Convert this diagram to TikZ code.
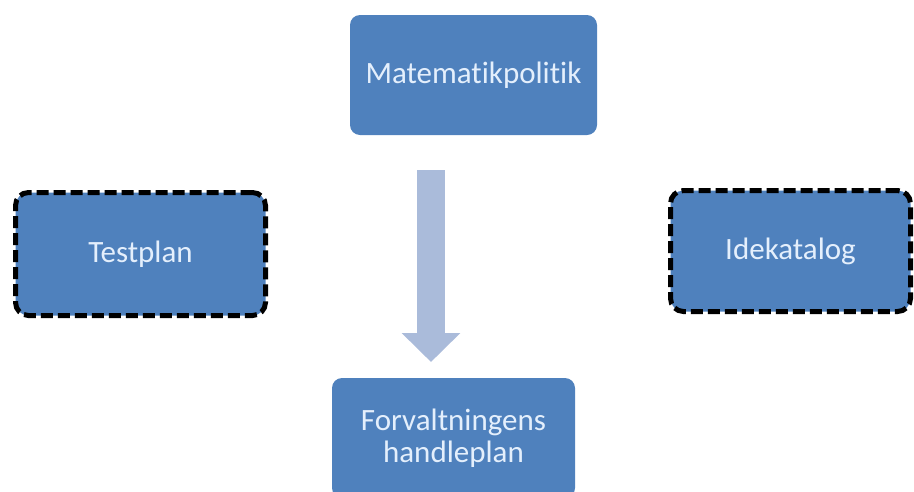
\documentclass[tikz,border=0pt]{standalone}
\usepackage{fontspec}
\setmainfont{Carlito}[Ligatures=NoCommon]
\usetikzlibrary{arrows.meta}
\definecolor{boxblue}{RGB}{79,129,189}
\definecolor{boxtext}{RGB}{228,239,252}
\definecolor{arrowblue}{RGB}{170,187,218}
\begin{document}
\begin{tikzpicture}[x=1pt,y=-1pt]

    \tikzset{
      box/.style={
        fill=boxblue,
        rounded corners=10pt,
        text=boxtext,
        align=center,
        font=\fontsize{31}{32}\selectfont,
        inner sep=0pt,
      },
      dashbox/.style={
        box,
        draw=black,
        line width=5pt,
        dash pattern=on 12pt off 5pt,
        rounded corners=13pt,
      },
    }
    \useasboundingbox (0,0) rectangle (914,491);
    \clip (0,0) rectangle (914,491);
	\node[box, minimum width=247pt, minimum height=120pt] (matpol) at (473.5,75) {Matematikpolitik};
	\node[dashbox, minimum width=250pt, minimum height=123pt] (testplan) at (140.5,254) {Testplan};
	\node[dashbox, minimum width=240pt, minimum height=121pt] (idekat) at (790.5,251) {Idekatalog};
	\node[box, minimum width=243pt, minimum height=120pt] (handleplan) at (453.5,438) {Forvaltningens\\handleplan};
	\coordinate (arrtop) at (431,170);
	\coordinate (arrtip) at (431,362);
	\draw[arrowblue, line width=28pt, -{Triangle[length=29pt, width=57pt]}] (arrtop) -- (arrtip);

\end{tikzpicture}
\end{document}
